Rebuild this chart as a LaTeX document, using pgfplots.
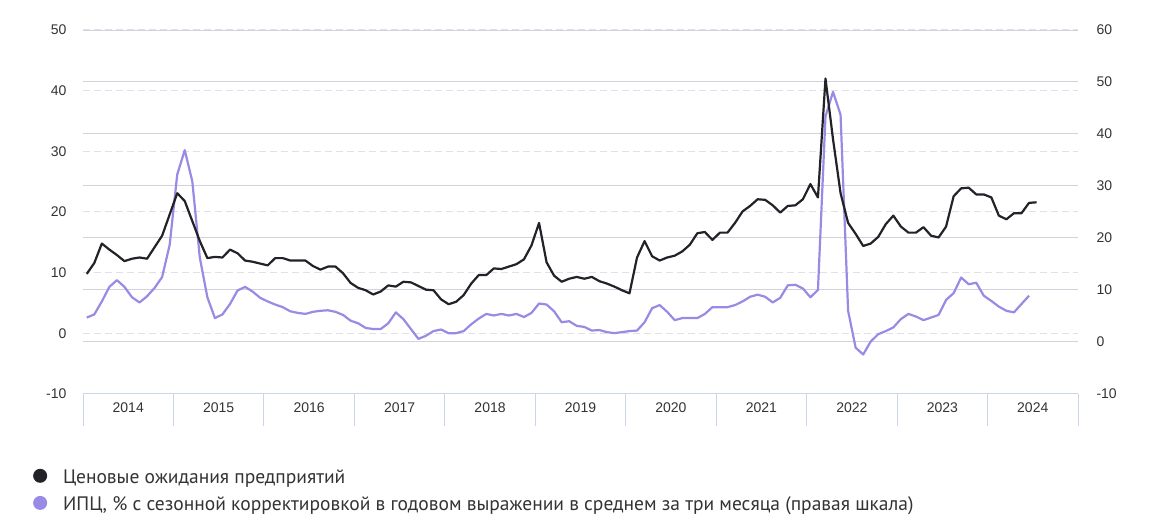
\documentclass[border=0pt]{standalone}
\usepackage{fontspec}
\setmainfont{PT Sans}
\newfontfamily\tickfont{Liberation Sans}
\usepackage{pgfplots}
\pgfplotsset{compat=1.18}

\definecolor{blk}{RGB}{34,34,40}
\definecolor{lav}{RGB}{153,138,228}
\definecolor{dashgrid}{RGB}{224,224,230}
\definecolor{solidgrid}{RGB}{208,210,220}
\definecolor{axisc}{RGB}{204,214,235}
\definecolor{tickc}{RGB}{51,51,51}

\pgfplotsset{
  base/.style={
    at={(83pt,138pt)}, anchor=south west,
    scale only axis, width=995pt, height=364pt,
    xmin=-0.5, xmax=131.5, ymin=-10,
    /pgf/number format/assume math mode=true,
    ticklabel style={font=\tickfont\fontsize{14}{16}\selectfont, text=tickc},
  },
}

\begin{document}
\begin{tikzpicture}
\useasboundingbox (0,0) rectangle (1166pt,532pt);

% right scale: solid grid, right labels, years
\begin{axis}[base, ymax=60,
  axis x line*=bottom, axis y line*=right,
  x axis line style={draw=none}, y axis line style={draw=none},
  xtick={5.5,17.5,...,125.5},
  xticklabels={2014,2015,2016,2017,2018,2019,2020,2021,2022,2023,2024},
  ytick={-10,0,...,60},
  major tick length=0pt, tick style={draw=none},
  ymajorgrids, grid style={solidgrid, line width=1pt},
  yticklabel style={xshift=15pt},
  xticklabel style={yshift=-5pt},
]
\end{axis}

% left scale: dashed grid, left labels, x axis, year separators
\begin{axis}[base, ymax=50,
  axis x line*=bottom, axis y line*=left,
  x axis line style={draw=axisc, line width=1pt, -},
  y axis line style={draw=none},
  xtick={-0.5,11.5,...,131.5}, xticklabels={},
  tick align=outside, major tick length=32pt,
  xtick style={draw=axisc, line width=1pt},
  ytick={-10,0,...,50}, ytick style={draw=none},
  ymajorgrids, grid style={dashgrid, line width=1pt, dash pattern=on 7pt off 4pt},
  yticklabel style={xshift=19pt},
]
\end{axis}

% CPI, right scale
\begin{axis}[base, ymax=60, hide axis,
  legend cell align=left,
  legend style={at={(axis description cs:-0.0503,-0.205)}, anchor=north west,
    draw=none, fill=none, inner sep=0pt, row sep=11pt, column sep=16pt,
    font=\fontsize{19.5}{23}\selectfont, text=tickc,
    nodes={inner sep=0pt}},
  legend image code/.code={\fill[#1, draw=none] (7pt,1.5pt) circle (7pt);},
]
\addlegendimage{color=blk}
\addlegendentry{Ценовые ожидания предприятий}
\addplot[color=lav, line width=2.2pt, line join=round] coordinates {
(0,4.7)(1,5.3)(2,7.8)(3,10.6)(4,11.9)(5,10.6)(6,8.6)(7,7.6)(8,8.8)(9,10.4)
(10,12.5)(11,18.7)(12,32.2)(13,36.9)(14,30.9)(15,16.2)(16,8.6)(17,4.6)(18,5.3)(19,7.3)
(20,9.9)(21,10.6)(22,9.7)(23,8.5)(24,7.8)(25,7.2)(26,6.7)(27,5.9)(28,5.6)(29,5.4)
(30,5.8)(31,6.0)(32,6.1)(33,5.8)(34,5.2)(35,4.1)(36,3.6)(37,2.7)(38,2.5)(39,2.5)
(40,3.6)(41,5.7)(42,4.4)(43,2.5)(44,0.6)(45,1.2)(46,2.1)(47,2.4)(48,1.7)(49,1.7)
(50,2.1)(51,3.4)(52,4.5)(53,5.4)(54,5.1)(55,5.4)(56,5.1)(57,5.4)(58,4.8)(59,5.6)
(60,7.4)(61,7.2)(62,5.9)(63,3.8)(64,4.0)(65,3.1)(66,2.9)(67,2.2)(68,2.3)(69,1.9)
(70,1.7)(71,1.9)(72,2.1)(73,2.2)(74,3.8)(75,6.5)(76,7.1)(77,5.8)(78,4.2)(79,4.6)
(80,4.6)(81,4.6)(82,5.4)(83,6.7)(84,6.7)(85,6.7)(86,7.1)(87,7.8)(88,8.7)(89,9.1)
(90,8.7)(91,7.6)(92,8.5)(93,10.9)(94,11.0)(95,10.3)(96,8.6)(97,10.0)(98,43.4)(99,48.1)
(100,43.7)(101,6.0)(102,-1.1)(103,-2.4)(104,0.1)(105,1.5)(106,2.1)(107,2.8)(108,4.4)(109,5.4)
(110,4.9)(111,4.2)(112,4.7)(113,5.2)(114,8.1)(115,9.4)(116,12.4)(117,11.1)(118,11.4)(119,8.9)
(120,7.9)(121,6.8)(122,6.0)(123,5.7)(124,7.3)(125,8.9)
};
\addlegendentry{ИПЦ, \% с сезонной корректировкой в годовом выражении в среднем за три месяца (правая шкала)}
\end{axis}

% business price expectations, left scale
\begin{axis}[base, ymax=50, hide axis]
\addplot[color=blk, line width=2.2pt, line join=round] coordinates {
(0,9.8)(1,11.6)(2,14.8)(3,13.8)(4,12.9)(5,11.9)(6,12.3)(7,12.5)(8,12.3)(9,14.2)
(10,16.1)(11,19.6)(12,23.1)(13,21.8)(14,18.5)(15,15.2)(16,12.4)(17,12.6)(18,12.5)(19,13.8)
(20,13.2)(21,12.0)(22,11.8)(23,11.5)(24,11.2)(25,12.4)(26,12.4)(27,12.0)(28,12.0)(29,12.0)
(30,11.1)(31,10.5)(32,11.0)(33,11.0)(34,9.9)(35,8.3)(36,7.5)(37,7.1)(38,6.4)(39,6.9)
(40,7.9)(41,7.7)(42,8.5)(43,8.4)(44,7.8)(45,7.2)(46,7.1)(47,5.6)(48,4.8)(49,5.2)
(50,6.3)(51,8.2)(52,9.6)(53,9.6)(54,10.7)(55,10.6)(56,11.0)(57,11.4)(58,12.2)(59,14.5)
(60,18.2)(61,11.7)(62,9.5)(63,8.5)(64,9.0)(65,9.3)(66,9.0)(67,9.3)(68,8.6)(69,8.2)
(70,7.7)(71,7.1)(72,6.6)(73,12.5)(74,15.2)(75,12.7)(76,12.0)(77,12.5)(78,12.8)(79,13.5)
(80,14.6)(81,16.5)(82,16.7)(83,15.4)(84,16.6)(85,16.6)(86,18.2)(87,20.1)(88,21.0)(89,22.1)
(90,22.0)(91,21.1)(92,19.9)(93,21.0)(94,21.1)(95,22.1)(96,24.6)(97,22.4)(98,42.0)(99,32.0)
(100,23.1)(101,18.2)(102,16.4)(103,14.4)(104,14.8)(105,15.9)(106,18.0)(107,19.4)(108,17.6)(109,16.6)
(110,16.6)(111,17.5)(112,16.1)(113,15.8)(114,17.6)(115,22.6)(116,23.9)(117,24.0)(118,22.9)(119,22.9)
(120,22.4)(121,19.4)(122,18.8)(123,19.8)(124,19.8)(125,21.5)(126,21.6)
};
\end{axis}
\end{tikzpicture}
\end{document}
